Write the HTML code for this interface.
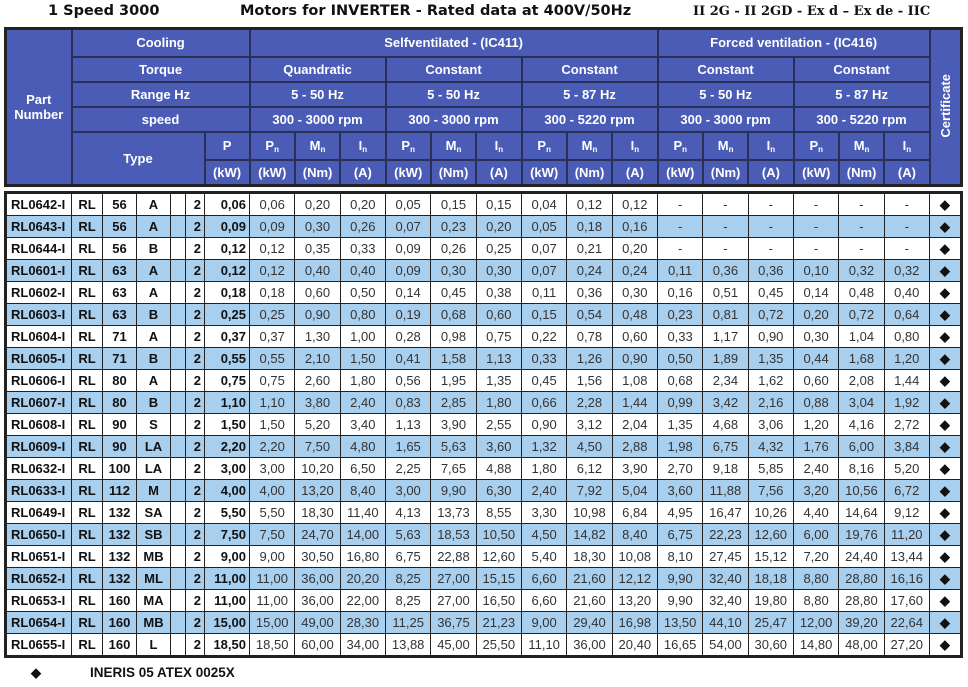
<!DOCTYPE html>
<html><head><meta charset="utf-8"><style>
body{margin:0;width:968px;height:687px;background:#fff;position:relative;overflow:hidden;font-family:"Liberation Sans",Arial,sans-serif}
.t{position:absolute;top:3px;font-family:"DejaVu Sans",sans-serif;font-weight:bold;font-size:14.5px;color:#111;white-space:nowrap}
table{position:absolute;left:4px;border-collapse:collapse;table-layout:fixed;width:956px}
#h{top:27px;height:158px;background:#4a5cb6;border:3px solid #222}
#h td{border:2px solid #2a2f55;color:#fff;font-weight:bold;font-size:13px;text-align:center;padding:0}
#h .s{font-size:12.5px}
#d{top:191px;border:3px solid #222}
#d td{border:1.5px solid #222;height:21px;padding:0 3px;text-align:center;font-size:13px;color:#333;white-space:nowrap}
#d td.b{font-weight:bold;color:#111}
#d td.pn{font-weight:bold;color:#111;text-align:left;padding-left:4px}
#d td.r{text-align:right;font-weight:bold;color:#111}
#d td.bp{font-weight:bold;color:#111;text-align:right}
#d tr:nth-child(even) td{background:#a9cfef}
sub{font-size:8px;vertical-align:-2px}
.cert{writing-mode:vertical-rl;transform:rotate(180deg);display:inline-block}
</style></head><body>
<div class="t" style="left:48px">1 Speed 3000</div>
<div class="t" style="left:240px">Motors for INVERTER - Rated data at 400V/50Hz</div>
<div class="t" style="left:693px;font-family:'DejaVu Serif',serif;font-size:13px;top:4px">II 2G - II 2GD - Ex d – Ex de - IIC</div>
<table id="h">
<colgroup><col style="width:66px"><col style="width:31px"><col style="width:34px"><col style="width:34px"><col style="width:15px"><col style="width:19px"><col style="width:45px"><col span="15" style="width:45.33px"><col style="width:32px"></colgroup>
<tr style="height:28px"><td rowspan="6">Part<br>Number</td><td colspan="6">Cooling</td><td colspan="9">Selfventilated - (IC411)</td><td colspan="6">Forced ventilation - (IC416)</td><td rowspan="6"><span class="cert">Certificate</span></td></tr>
<tr style="height:25px"><td colspan="6">Torque</td><td colspan="3">Quandratic</td><td colspan="3">Constant</td><td colspan="3">Constant</td><td colspan="3">Constant</td><td colspan="3">Constant</td></tr>
<tr style="height:25px"><td colspan="6">Range Hz</td><td colspan="3">5 - 50 Hz</td><td colspan="3">5 - 50 Hz</td><td colspan="3">5 - 87 Hz</td><td colspan="3">5 - 50 Hz</td><td colspan="3">5 - 87 Hz</td></tr>
<tr style="height:25px"><td colspan="6">speed</td><td colspan="3">300 - 3000 rpm</td><td colspan="3">300 - 3000 rpm</td><td colspan="3">300 - 5220 rpm</td><td colspan="3">300 - 3000 rpm</td><td colspan="3">300 - 5220 rpm</td></tr>
<tr style="height:28px"><td colspan="5" rowspan="2">Type</td><td>P</td><td>P<sub>n</sub></td><td>M<sub>n</sub></td><td>I<sub>n</sub></td><td>P<sub>n</sub></td><td>M<sub>n</sub></td><td>I<sub>n</sub></td><td>P<sub>n</sub></td><td>M<sub>n</sub></td><td>I<sub>n</sub></td><td>P<sub>n</sub></td><td>M<sub>n</sub></td><td>I<sub>n</sub></td><td>P<sub>n</sub></td><td>M<sub>n</sub></td><td>I<sub>n</sub></td></tr>
<tr style="height:26px" class="s"><td>(kW)</td><td>(kW)</td><td>(Nm)</td><td>(A)</td><td>(kW)</td><td>(Nm)</td><td>(A)</td><td>(kW)</td><td>(Nm)</td><td>(A)</td><td>(kW)</td><td>(Nm)</td><td>(A)</td><td>(kW)</td><td>(Nm)</td><td>(A)</td></tr>
</table>
<table id="d">
<colgroup><col style="width:66px"><col style="width:31px"><col style="width:34px"><col style="width:34px"><col style="width:15px"><col style="width:19px"><col style="width:45px"><col span="15" style="width:45.33px"><col style="width:32px"></colgroup>
<tr><td class="pn">RL0642-I</td><td class="b">RL</td><td class="b">56</td><td class="b">A</td><td></td><td class="r">2</td><td class="bp">0,06</td><td>0,06</td><td>0,20</td><td>0,20</td><td>0,05</td><td>0,15</td><td>0,15</td><td>0,04</td><td>0,12</td><td>0,12</td><td>-</td><td>-</td><td>-</td><td>-</td><td>-</td><td>-</td><td class="b">◆</td></tr>
<tr><td class="pn">RL0643-I</td><td class="b">RL</td><td class="b">56</td><td class="b">A</td><td></td><td class="r">2</td><td class="bp">0,09</td><td>0,09</td><td>0,30</td><td>0,26</td><td>0,07</td><td>0,23</td><td>0,20</td><td>0,05</td><td>0,18</td><td>0,16</td><td>-</td><td>-</td><td>-</td><td>-</td><td>-</td><td>-</td><td class="b">◆</td></tr>
<tr><td class="pn">RL0644-I</td><td class="b">RL</td><td class="b">56</td><td class="b">B</td><td></td><td class="r">2</td><td class="bp">0,12</td><td>0,12</td><td>0,35</td><td>0,33</td><td>0,09</td><td>0,26</td><td>0,25</td><td>0,07</td><td>0,21</td><td>0,20</td><td>-</td><td>-</td><td>-</td><td>-</td><td>-</td><td>-</td><td class="b">◆</td></tr>
<tr><td class="pn">RL0601-I</td><td class="b">RL</td><td class="b">63</td><td class="b">A</td><td></td><td class="r">2</td><td class="bp">0,12</td><td>0,12</td><td>0,40</td><td>0,40</td><td>0,09</td><td>0,30</td><td>0,30</td><td>0,07</td><td>0,24</td><td>0,24</td><td>0,11</td><td>0,36</td><td>0,36</td><td>0,10</td><td>0,32</td><td>0,32</td><td class="b">◆</td></tr>
<tr><td class="pn">RL0602-I</td><td class="b">RL</td><td class="b">63</td><td class="b">A</td><td></td><td class="r">2</td><td class="bp">0,18</td><td>0,18</td><td>0,60</td><td>0,50</td><td>0,14</td><td>0,45</td><td>0,38</td><td>0,11</td><td>0,36</td><td>0,30</td><td>0,16</td><td>0,51</td><td>0,45</td><td>0,14</td><td>0,48</td><td>0,40</td><td class="b">◆</td></tr>
<tr><td class="pn">RL0603-I</td><td class="b">RL</td><td class="b">63</td><td class="b">B</td><td></td><td class="r">2</td><td class="bp">0,25</td><td>0,25</td><td>0,90</td><td>0,80</td><td>0,19</td><td>0,68</td><td>0,60</td><td>0,15</td><td>0,54</td><td>0,48</td><td>0,23</td><td>0,81</td><td>0,72</td><td>0,20</td><td>0,72</td><td>0,64</td><td class="b">◆</td></tr>
<tr><td class="pn">RL0604-I</td><td class="b">RL</td><td class="b">71</td><td class="b">A</td><td></td><td class="r">2</td><td class="bp">0,37</td><td>0,37</td><td>1,30</td><td>1,00</td><td>0,28</td><td>0,98</td><td>0,75</td><td>0,22</td><td>0,78</td><td>0,60</td><td>0,33</td><td>1,17</td><td>0,90</td><td>0,30</td><td>1,04</td><td>0,80</td><td class="b">◆</td></tr>
<tr><td class="pn">RL0605-I</td><td class="b">RL</td><td class="b">71</td><td class="b">B</td><td></td><td class="r">2</td><td class="bp">0,55</td><td>0,55</td><td>2,10</td><td>1,50</td><td>0,41</td><td>1,58</td><td>1,13</td><td>0,33</td><td>1,26</td><td>0,90</td><td>0,50</td><td>1,89</td><td>1,35</td><td>0,44</td><td>1,68</td><td>1,20</td><td class="b">◆</td></tr>
<tr><td class="pn">RL0606-I</td><td class="b">RL</td><td class="b">80</td><td class="b">A</td><td></td><td class="r">2</td><td class="bp">0,75</td><td>0,75</td><td>2,60</td><td>1,80</td><td>0,56</td><td>1,95</td><td>1,35</td><td>0,45</td><td>1,56</td><td>1,08</td><td>0,68</td><td>2,34</td><td>1,62</td><td>0,60</td><td>2,08</td><td>1,44</td><td class="b">◆</td></tr>
<tr><td class="pn">RL0607-I</td><td class="b">RL</td><td class="b">80</td><td class="b">B</td><td></td><td class="r">2</td><td class="bp">1,10</td><td>1,10</td><td>3,80</td><td>2,40</td><td>0,83</td><td>2,85</td><td>1,80</td><td>0,66</td><td>2,28</td><td>1,44</td><td>0,99</td><td>3,42</td><td>2,16</td><td>0,88</td><td>3,04</td><td>1,92</td><td class="b">◆</td></tr>
<tr><td class="pn">RL0608-I</td><td class="b">RL</td><td class="b">90</td><td class="b">S</td><td></td><td class="r">2</td><td class="bp">1,50</td><td>1,50</td><td>5,20</td><td>3,40</td><td>1,13</td><td>3,90</td><td>2,55</td><td>0,90</td><td>3,12</td><td>2,04</td><td>1,35</td><td>4,68</td><td>3,06</td><td>1,20</td><td>4,16</td><td>2,72</td><td class="b">◆</td></tr>
<tr><td class="pn">RL0609-I</td><td class="b">RL</td><td class="b">90</td><td class="b">LA</td><td></td><td class="r">2</td><td class="bp">2,20</td><td>2,20</td><td>7,50</td><td>4,80</td><td>1,65</td><td>5,63</td><td>3,60</td><td>1,32</td><td>4,50</td><td>2,88</td><td>1,98</td><td>6,75</td><td>4,32</td><td>1,76</td><td>6,00</td><td>3,84</td><td class="b">◆</td></tr>
<tr><td class="pn">RL0632-I</td><td class="b">RL</td><td class="b">100</td><td class="b">LA</td><td></td><td class="r">2</td><td class="bp">3,00</td><td>3,00</td><td>10,20</td><td>6,50</td><td>2,25</td><td>7,65</td><td>4,88</td><td>1,80</td><td>6,12</td><td>3,90</td><td>2,70</td><td>9,18</td><td>5,85</td><td>2,40</td><td>8,16</td><td>5,20</td><td class="b">◆</td></tr>
<tr><td class="pn">RL0633-I</td><td class="b">RL</td><td class="b">112</td><td class="b">M</td><td></td><td class="r">2</td><td class="bp">4,00</td><td>4,00</td><td>13,20</td><td>8,40</td><td>3,00</td><td>9,90</td><td>6,30</td><td>2,40</td><td>7,92</td><td>5,04</td><td>3,60</td><td>11,88</td><td>7,56</td><td>3,20</td><td>10,56</td><td>6,72</td><td class="b">◆</td></tr>
<tr><td class="pn">RL0649-I</td><td class="b">RL</td><td class="b">132</td><td class="b">SA</td><td></td><td class="r">2</td><td class="bp">5,50</td><td>5,50</td><td>18,30</td><td>11,40</td><td>4,13</td><td>13,73</td><td>8,55</td><td>3,30</td><td>10,98</td><td>6,84</td><td>4,95</td><td>16,47</td><td>10,26</td><td>4,40</td><td>14,64</td><td>9,12</td><td class="b">◆</td></tr>
<tr><td class="pn">RL0650-I</td><td class="b">RL</td><td class="b">132</td><td class="b">SB</td><td></td><td class="r">2</td><td class="bp">7,50</td><td>7,50</td><td>24,70</td><td>14,00</td><td>5,63</td><td>18,53</td><td>10,50</td><td>4,50</td><td>14,82</td><td>8,40</td><td>6,75</td><td>22,23</td><td>12,60</td><td>6,00</td><td>19,76</td><td>11,20</td><td class="b">◆</td></tr>
<tr><td class="pn">RL0651-I</td><td class="b">RL</td><td class="b">132</td><td class="b">MB</td><td></td><td class="r">2</td><td class="bp">9,00</td><td>9,00</td><td>30,50</td><td>16,80</td><td>6,75</td><td>22,88</td><td>12,60</td><td>5,40</td><td>18,30</td><td>10,08</td><td>8,10</td><td>27,45</td><td>15,12</td><td>7,20</td><td>24,40</td><td>13,44</td><td class="b">◆</td></tr>
<tr><td class="pn">RL0652-I</td><td class="b">RL</td><td class="b">132</td><td class="b">ML</td><td></td><td class="r">2</td><td class="bp">11,00</td><td>11,00</td><td>36,00</td><td>20,20</td><td>8,25</td><td>27,00</td><td>15,15</td><td>6,60</td><td>21,60</td><td>12,12</td><td>9,90</td><td>32,40</td><td>18,18</td><td>8,80</td><td>28,80</td><td>16,16</td><td class="b">◆</td></tr>
<tr><td class="pn">RL0653-I</td><td class="b">RL</td><td class="b">160</td><td class="b">MA</td><td></td><td class="r">2</td><td class="bp">11,00</td><td>11,00</td><td>36,00</td><td>22,00</td><td>8,25</td><td>27,00</td><td>16,50</td><td>6,60</td><td>21,60</td><td>13,20</td><td>9,90</td><td>32,40</td><td>19,80</td><td>8,80</td><td>28,80</td><td>17,60</td><td class="b">◆</td></tr>
<tr><td class="pn">RL0654-I</td><td class="b">RL</td><td class="b">160</td><td class="b">MB</td><td></td><td class="r">2</td><td class="bp">15,00</td><td>15,00</td><td>49,00</td><td>28,30</td><td>11,25</td><td>36,75</td><td>21,23</td><td>9,00</td><td>29,40</td><td>16,98</td><td>13,50</td><td>44,10</td><td>25,47</td><td>12,00</td><td>39,20</td><td>22,64</td><td class="b">◆</td></tr>
<tr><td class="pn">RL0655-I</td><td class="b">RL</td><td class="b">160</td><td class="b">L</td><td></td><td class="r">2</td><td class="bp">18,50</td><td>18,50</td><td>60,00</td><td>34,00</td><td>13,88</td><td>45,00</td><td>25,50</td><td>11,10</td><td>36,00</td><td>20,40</td><td>16,65</td><td>54,00</td><td>30,60</td><td>14,80</td><td>48,00</td><td>27,20</td><td class="b">◆</td></tr>
</table>
<div style="position:absolute;left:31px;top:665px;font-size:13px;font-weight:bold;color:#111">◆</div>
<div style="position:absolute;left:90px;top:665px;font-size:13.5px;font-weight:bold;color:#111">INERIS 05 ATEX 0025X</div>
</body></html>
